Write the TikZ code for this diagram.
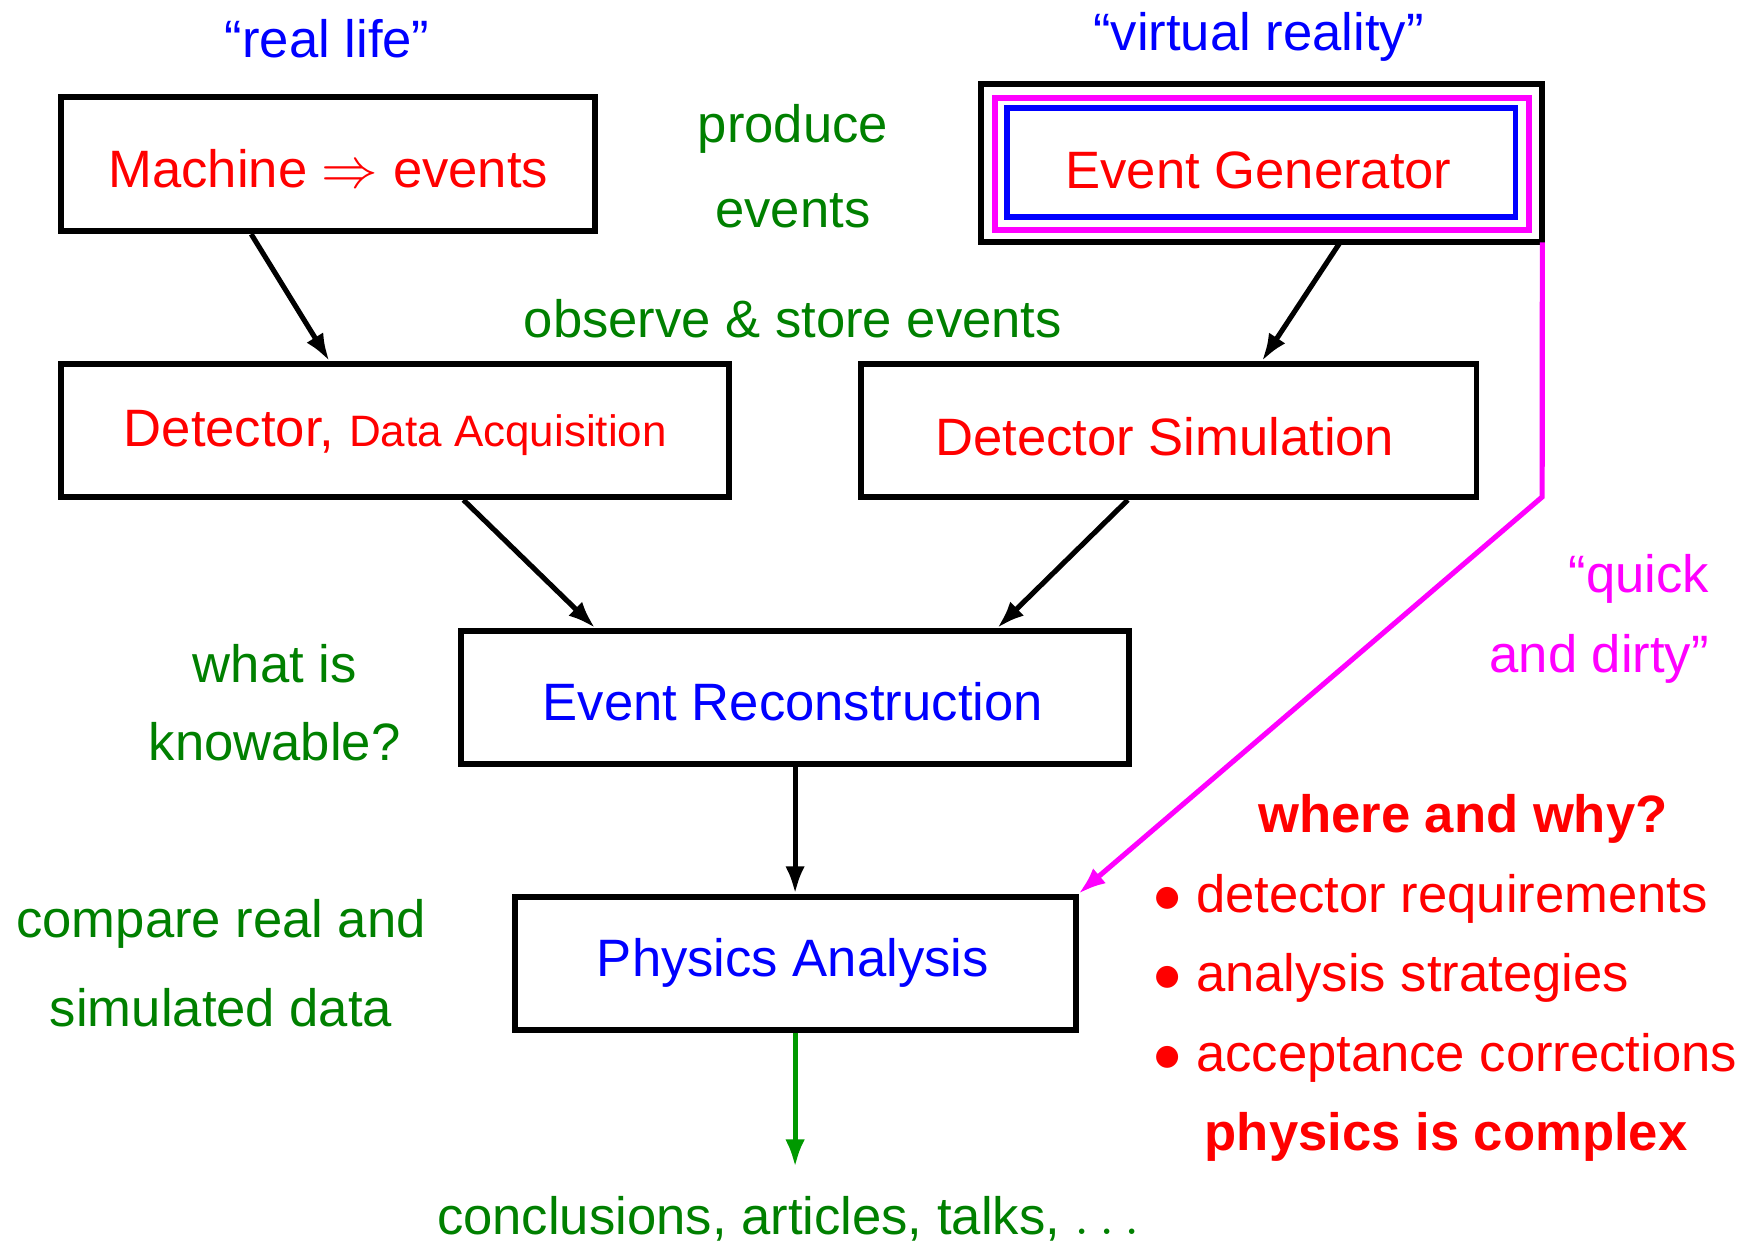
\documentclass[tikz,border=0pt]{standalone}
\usepackage{fontspec}
\setmainfont{Liberation Sans}
\usetikzlibrary{arrows.meta,calc}
\definecolor{tgreen}{rgb}{0,0.5,0}
\definecolor{agreen}{rgb}{0,0.6,0}
\definecolor{mag}{rgb}{1,0,1}
\newcommand\bigfs{\fontsize{13.4pt}{16pt}\selectfont}
\tikzset{
  lbl/.style={font=\bigfs, inner sep=0pt},
  boxnode/.style={draw, line width=1.5pt, minimum height=1.19cm, inner sep=0pt, font=\bigfs},
  conn/.style={line width=1.3pt, -{Latex[length=7pt,width=5pt]}},
}
\begin{document}
\begin{tikzpicture}[x=0.01cm,y=-0.01cm]
\useasboundingbox (0,0) rectangle (1568,1111);
% headers
\node[lbl, text=blue] (reallife) at (293,35) {“real life”};
\node[lbl, text=blue] (virtual) at (1127,33) {“virtual reality”};
% boxes
\node[boxnode, minimum width=4.78cm, minimum height=1.20cm] (mach) at (294,147) {};
\node[lbl, text=red] (machtxt) at (294,151) {Machine $\Rightarrow$ events};
\node[draw, line width=1.5pt, minimum width=5.02cm, minimum height=1.42cm, inner sep=0pt, outer sep=0pt] (egout) at (1130,146) {};
\node[draw=mag, line width=1.5pt, minimum width=4.78cm, minimum height=1.18cm, inner sep=0pt] (egmag) at (1130,147) {};
\node[draw=blue, line width=1.5pt, minimum width=4.55cm, minimum height=0.97cm, inner sep=0pt] (eg) at (1129.5,145.5) {};
\node[lbl, text=red] (egtxt) at (1127,153) {Event Generator};
\node[boxnode, minimum width=5.98cm] (det) at (354,385.5) {};
\node[lbl, text=red] (dettxt) at (354,388) {Detector, {\fontsize{11.2pt}{13pt}\selectfont Data Acquisition}};
\node[boxnode, minimum width=5.51cm] (detsim) at (1046.5,385.5) {};
\node[lbl, text=red] (detsimtxt) at (1043,391) {Detector Simulation};
\node[boxnode, minimum width=5.98cm] (reco) at (712,624.5) {};
\node[lbl, text=blue] (recotxt) at (710,628) {Event Reconstruction};
\node[boxnode, minimum width=5.02cm] (phys) at (712,862.5) {};
\node[lbl, text=blue] (phystxt) at (710,862) {Physics Analysis};
% green labels
\node[lbl, text=tgreen] (produce) at (710,115) {produce};
\node[lbl, text=tgreen] (prodev) at (710,189) {events};
\node[lbl, text=tgreen] (observe) at (710,285) {observe \& store events};
\node[lbl, text=tgreen] (whatis) at (246,594) {what is};
\node[lbl, text=tgreen] (knowable) at (246,664) {knowable?};
\node[lbl, text=tgreen] (compare) at (198,827) {compare real and};
\node[lbl, text=tgreen] (simdata) at (198,902) {simulated data};
\node[lbl, text=tgreen, anchor=north] (concl) at (706,1071) {conclusions, articles, talks, $\ldots$};
% magenta labels
\node[lbl, text=mag, anchor=east] (quick) at (1531,518) {“quick};
\node[lbl, text=mag, anchor=east] (dirty) at (1531,590) {and dirty”};
% red texts
\node[lbl, text=red, font=\bigfs\bfseries] (where) at (1310,733) {where and why?};
\node[lbl, text=red, anchor=west] (b1) at (1032,805) {$\bullet$ detector requirements};
\node[lbl, text=red, anchor=west] (b2) at (1032,876) {$\bullet$ analysis strategies};
\node[lbl, text=red, anchor=west] (b3) at (1032,947) {$\bullet$ acceptance corrections};
\node[lbl, text=red, font=\bigfs\bfseries] (complex) at (1295,1018) {physics is complex};
% connectors
\draw[conn] ([xshift=-0.69cm]mach.south) -- ([xshift=-0.59cm]det.north);
\draw[conn] ([xshift=0.70cm]egout.south) -- ([xshift=0.835cm]detsim.north);
\draw[conn] ([xshift=0.61cm]det.south) -- ([xshift=-1.79cm]reco.north);
\draw[conn] ([xshift=-0.365cm]detsim.south) -- ([xshift=1.81cm]reco.north);
\draw[conn] (reco.south) -- (phys.north);
\coordinate (concltip) at (712,1045);
\draw[conn, color=agreen] (phys.south) -- (concltip);
\coordinate (bend) at (1381,445);
\draw[conn, color=mag] (egout.south east) -- (bend) -- (phys.north east);
\end{tikzpicture}
\end{document}
